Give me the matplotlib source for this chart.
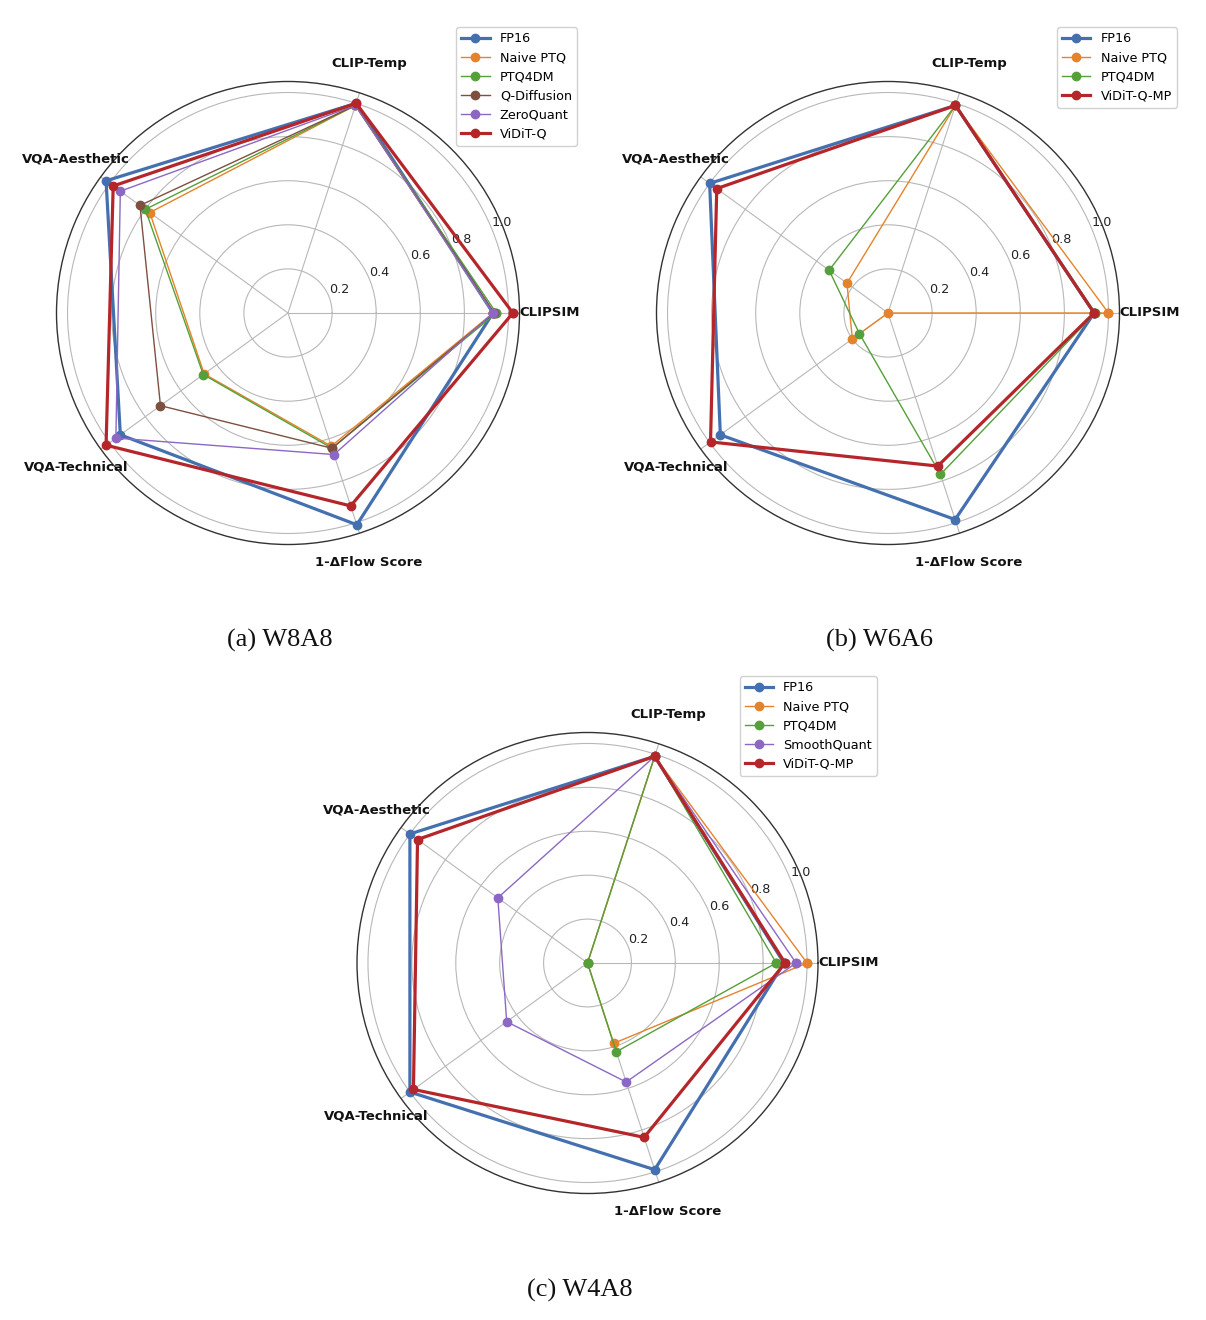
import numpy as np
import matplotlib
matplotlib.use("Agg")
import matplotlib.pyplot as plt

# ---------------- data ----------------
metrics = ['CLIPSIM', 'CLIP-Temp', 'VQA-Aesthetic', 'VQA-Technical', '1-ΔFlow Score']
radial_ticks = [0.2, 0.4, 0.6, 0.8, 1.0]
radial_tick_labels = ['0.2', '0.4', '0.6', '0.8', '1.0']

# (a) W8A8
a_methods = ['FP16', 'Naive PTQ', 'PTQ4DM', 'Q-Diffusion', 'ZeroQuant', 'ViDiT-Q']
a_fp16 = [0.93, 1.00, 1.02, 0.94, 1.01]
a_naive = [0.93, 0.99, 0.775, 0.47, 0.635]
a_ptq4dm = [0.945, 0.99, 0.80, 0.475, 0.645]
a_qdiff = [0.935, 0.99, 0.83, 0.715, 0.645]
a_zeroq = [0.93, 0.99, 0.94, 0.965, 0.675]
a_vidit = [1.02, 1.00, 0.98, 1.02, 0.92]

# (b) W6A6
b_methods = ['FP16', 'Naive PTQ', 'PTQ4DM', 'ViDiT-Q-MP']
b_fp16 = [0.935, 0.99, 1.00, 0.94, 0.985]
b_naive = [1.00, 0.99, 0.23, 0.20, 0.0]
b_ptq4dm = [0.94, 0.99, 0.33, 0.16, 0.77]
b_vidit = [0.935, 0.99, 0.96, 0.995, 0.73]

# (c) W4A8
c_methods = ['FP16', 'Naive PTQ', 'PTQ4DM', 'SmoothQuant', 'ViDiT-Q-MP']
c_fp16 = [0.895, 0.99, 1.00, 1.00, 0.99]
c_naive = [1.00, 0.99, 0.0, 0.0, 0.385]
c_ptq4dm = [0.86, 0.99, 0.0, 0.0, 0.425]
c_smooth = [0.95, 0.99, 0.505, 0.455, 0.57]
c_vidit = [0.90, 0.99, 0.957, 0.98, 0.835]

captions = ['(a) W8A8', '(b) W6A6', '(c) W4A8']

# ---------------- styles ----------------
C_BLUE = '#4470b0'
C_ORANGE = '#e5832c'
C_GREEN = '#55a03a'
C_BROWN = '#7d5040'
C_PURPLE = '#8c68c4'
C_RED = '#b5262a'

color_of = {'FP16': C_BLUE, 'Naive PTQ': C_ORANGE, 'PTQ4DM': C_GREEN,
            'Q-Diffusion': C_BROWN, 'ZeroQuant': C_PURPLE, 'SmoothQuant': C_PURPLE,
            'ViDiT-Q': C_RED, 'ViDiT-Q-MP': C_RED}
thick = {'FP16', 'ViDiT-Q', 'ViDiT-Q-MP'}

fig = plt.figure(figsize=(12.06, 13.2), dpi=100)
W, H = 1206.0, 1320.0

angles = np.linspace(0, 2 * np.pi, len(metrics), endpoint=False)
RMAX = 1.05


def make_ax(cx, cy, R):
    ax = fig.add_axes([(cx - R) / W, 1 - (cy + R) / H, 2 * R / W, 2 * R / H],
                      projection='polar')
    return ax


def draw(ax, methods, series, legend_anchor):
    closed_angles = np.concatenate([angles, angles[:1]])
    for name, vals in zip(methods, series):
        v = np.concatenate([vals, vals[:1]])
        lw = 2.3 if name in thick else 1.0
        ax.plot(closed_angles, v, color=color_of[name], lw=lw, marker='o',
                markersize=6, label=name)
    ax.set_ylim(0, RMAX)
    ax.set_yticks(radial_ticks)
    ax.set_yticklabels(radial_tick_labels, fontsize=9.2, color='#222222')
    ax.set_rlabel_position(22.5)
    ax.set_xticks(angles)
    ax.set_xticklabels([])
    ax.grid(True, color='#b8b8b8', lw=0.8)
    ax.spines['polar'].set_color('#333333')
    ax.spines['polar'].set_linewidth(1.0)
    for ang, lab in zip(angles, metrics):
        ax.text(ang, 1.188, lab, ha='center', va='center', fontsize=9.5,
                fontweight='bold', color='#111111', clip_on=False)
    leg = ax.legend(loc='upper right', bbox_to_anchor=legend_anchor,
                    bbox_transform=fig.transFigure, borderaxespad=0,
                    fontsize=9.2, labelspacing=0.48, handlelength=2.2,
                    handletextpad=0.8, borderpad=0.4, framealpha=0.9)
    leg.get_frame().set_edgecolor('#cccccc')


ax_a = make_ax(288, 313, 231.5)
draw(ax_a, a_methods, [a_fp16, a_naive, a_ptq4dm, a_qdiff, a_zeroq, a_vidit],
     (577 / W, 1 - 27 / H))

ax_b = make_ax(888, 313, 231.5)
draw(ax_b, b_methods, [b_fp16, b_naive, b_ptq4dm, b_vidit],
     (1177 / W, 1 - 27 / H))

ax_c = make_ax(587.5, 963, 230.5)
draw(ax_c, c_methods, [c_fp16, c_naive, c_ptq4dm, c_smooth, c_vidit],
     (877 / W, 1 - 676 / H))

cap_pos = [(280, 640), (880, 640), (580, 1290)]
for (x, y), cap in zip(cap_pos, captions):
    fig.text(x / W, 1 - y / H, cap, ha='center', va='center', fontsize=19,
             family='Liberation Serif', color='#111111')

fig.savefig('out.png', dpi=100, facecolor='white')
